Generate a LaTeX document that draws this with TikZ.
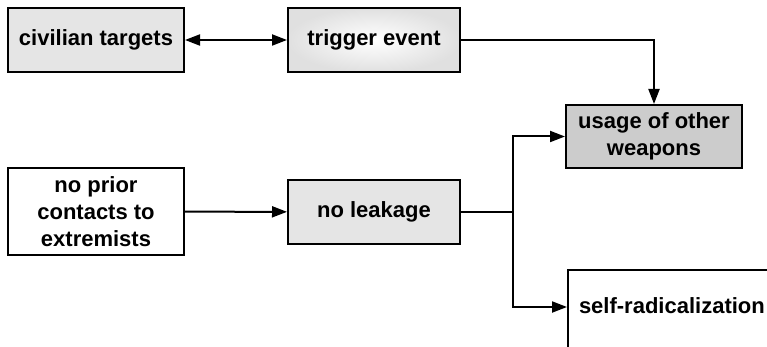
\documentclass[tikz,border=0pt]{standalone}
\usepackage{fontspec}
\setmainfont{Liberation Sans}
\usetikzlibrary{arrows.meta}

\begin{document}
\begin{tikzpicture}[x=1pt,y=-1pt]

    \clip (0,0) rectangle (767,347);

        \begin{scope}[every node/.style={rectangle,draw,line width=2pt,font=\bfseries\fontsize{22}{27}\selectfont,align=center,minimum width=176pt,minimum height=64pt}]
            \node[fill=black!10] (civ) at (96,40) {civilian targets};
            \node[minimum width=172pt,inner color=white,outer color=black!12] (trig) at (374,40) {trigger event};
            \node[fill=black!20,minimum height=63pt] (usage) at (654,136.5) {usage of other\\weapons};
            \node[fill=white,minimum height=87pt] (prior) at (96,211.5) {no prior\\contacts to\\extremists};
            \node[fill=black!10,minimum width=172pt] (leak) at (374,212) {no leakage};
            \node[fill=white,anchor=north west,minimum width=0pt,minimum height=0pt,inner xsep=11pt,inner ysep=0pt,text height=43pt,text depth=50pt] (self) at (567,269) {self-radicalization};
        \end{scope}

        \begin{scope}[every path/.style={line width=2pt,>={Triangle[length=15pt,width=11pt]}}]
            \path [<->] (civ) edge (trig);
            \path [->] (prior) edge (leak);

            \draw [->] (trig.east) -| (usage.north);

            \draw [->] (leak.east) -- ++(52,0) coordinate (split) |- (usage.west);
            \draw [->] (split) |- ([yshift=-38pt]self.north west);
        \end{scope}

    \end{tikzpicture}
\end{document}
